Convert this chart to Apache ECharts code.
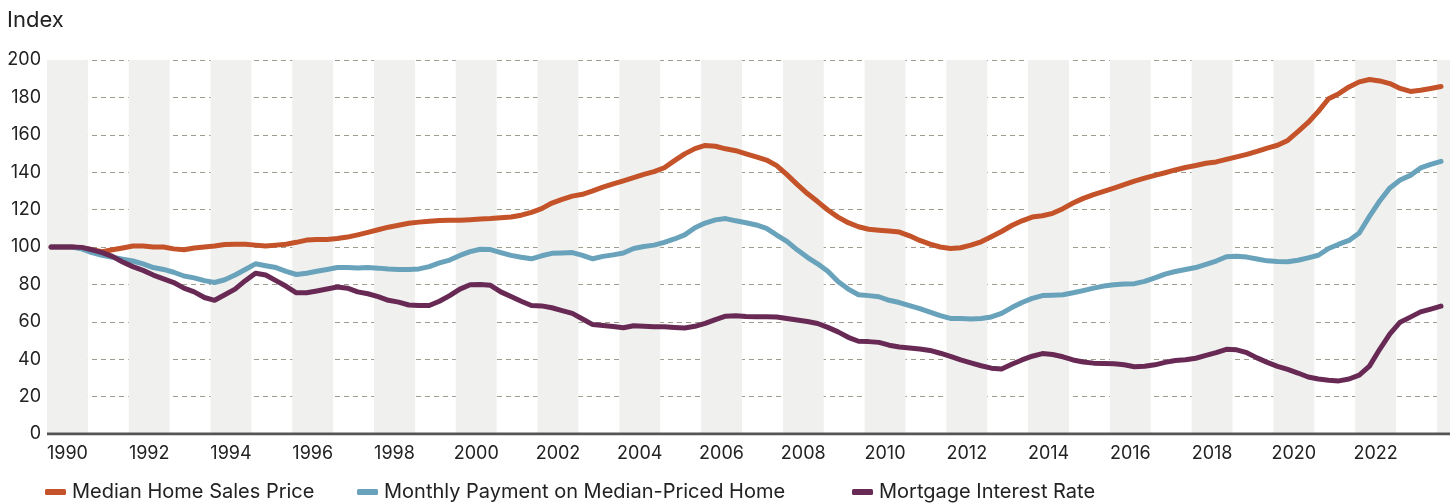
<!DOCTYPE html>
<html><head><meta charset="utf-8">
<script src="https://cdn.jsdelivr.net/npm/echarts@6/dist/echarts.min.js"></script>
<style>html,body{margin:0;padding:0;background:#fff}#c{width:1452px;height:504px}</style>
</head><body><div id="c"></div>
<script>
// Quarterly index values, 1990 Q1 = 100
const startYear = 1990.1;
const step = 0.25;
const seriesNames = ['Median Home Sales Price','Monthly Payment on Median-Priced Home','Mortgage Interest Rate'];
const priceIdx = [
100,100,100,99.5,98.5,97.5,98.5,99.5,100.5,100.5,
100,100,99,98.5,99.5,100,100.5,101.3,101.5,101.5,
101,100.5,101,101.5,102.5,103.7,104,104,104.5,105.3,
106.5,107.8,109.2,110.6,111.6,112.7,113.3,113.8,114.2,114.3,
114.3,114.6,115,115.2,115.6,116,117,118.5,120.5,123.5,
125.5,127.2,128.2,130,132,133.8,135.4,137.1,138.8,140.3,
142.4,146.2,149.8,152.6,154.3,153.9,152.5,151.5,149.8,148.2,
146.5,143.5,138.7,133.5,128.6,124.3,119.8,116,113,110.8,
109.5,109,108.6,108,106,103.5,101.5,100,99.2,99.6,
101,102.8,105.5,108.3,111.5,114,116,116.7,118,120.5,
123.5,126,128,129.7,131.5,133.3,135.2,136.8,138.3,139.7,
141.2,142.5,143.6,144.8,145.5,146.9,148.2,149.5,151.1,152.9,
154.4,157,161.7,166.6,172.5,179.3,182,185.6,188.3,189.6,
188.8,187.4,184.8,183.2,183.8,184.8,185.8];
const paymentIdx = [
100,100,100,99,97,95.5,94.5,93.5,92.5,91,
89,88,86.5,84.5,83.5,82,81,82.5,85,88,
91,90,89,87,85.3,86,87,88,89,89,
88.8,89,88.7,88.2,88,88,88.3,89.5,91.5,93,
95.5,97.5,98.8,98.6,97,95.5,94.5,93.7,95.3,96.6,
96.8,97,95.5,93.7,95,95.8,96.8,99.2,100.3,101,
102.5,104.3,106.5,110.3,112.8,114.5,115.2,114,113,111.8,
110,106.4,103,98.5,94.5,91,87,81.5,77.5,74.5,
74,73.4,71.5,70.3,68.6,67,65.2,63.3,61.8,61.8,
61.5,61.8,62.6,64.5,67.6,70.3,72.5,74,74.2,74.5,
75.5,76.7,78,79.1,79.8,80.2,80.4,81.6,83.5,85.5,
86.9,88,89,90.7,92.5,94.8,95.1,94.6,93.6,92.6,
92.2,92.1,92.9,94.2,95.6,99.2,101.5,103.5,107.5,116.4,
124.6,131.6,135.8,138.3,142.3,144.2,145.8];
const rateIdx = [
100,100,100,99.8,98.5,97,95,92,89.5,87.5,
85,83,81,78,76,73,71.5,74.5,77.5,82,
86,85,82,79,75.5,75.5,76.5,77.5,78.6,78,
76,75,73.5,71.5,70.5,69,68.7,68.7,71,74,
77.5,79.8,80,79.5,76,73.5,71,68.7,68.5,67.5,
66,64.5,61.5,58.5,58,57.5,56.8,57.9,57.6,57.3,
57.4,57,56.7,57.6,59.2,61.2,63,63.2,62.8,62.7,
62.7,62.6,61.8,61,60.2,59.1,57,54.6,51.7,49.6,
49.4,49,47.5,46.5,46,45.5,44.7,43.2,41.5,39.6,
38,36.5,35.2,34.8,37.3,39.6,41.6,43,42.5,41.3,
39.6,38.5,37.9,37.7,37.6,37,36,36.2,37,38.3,
39.3,39.7,40.5,42,43.5,45.3,45,43.5,40.7,38.3,
36.2,34.5,32.6,30.5,29.4,28.8,28.4,29.4,31.5,36.3,
45.3,53.5,59.8,62.5,65.3,66.8,68.4];
const yearLabels = [1990,1992,1994,1996,1998,2000,2002,2004,2006,2008,2010,2012,2014,2016,2018,2020,2022];
const yTicks = [0,20,40,60,80,100,120,140,160,180,200];
const colors = ['#c4532a','#69a2bb','#682a55'];

const font = 'Inter, "Noto Sans", sans-serif';
const toPairs = arr => arr.map((v,i)=>[startYear + i*step, v]);
const chart = echarts.init(document.getElementById('c'), null, {renderer:'canvas'});
const lineSeries = [priceIdx, paymentIdx, rateIdx].map((arr, k) => ({
  name: seriesNames[k], type:'line', data: toPairs(arr), showSymbol:false, symbol:'none',
  lineStyle:{width:5, color:colors[k], cap:'round', join:'round'}, itemStyle:{color:colors[k]},
  z: 2+k, animation:false
}));
const legendLefts = [45, 357, 852];
chart.setOption({
  animation:false,
  title:{text:'Index', left:7, top:9, padding:0, textStyle:{fontFamily:font, fontSize:22, fontWeight:'normal', color:'#222'}},
  grid:{left:47, right:2, top:60, bottom:70},
  legend: seriesNames.map((n,k)=>({
    data:[n], left:legendLefts[k], top:482, padding:0, icon:'roundRect', itemWidth:21, itemHeight:6, itemGap:29,
    textStyle:{fontFamily:font, fontSize:20, color:'#222', padding:[0,0,0,1]}
  })),
  xAxis:{
    type:'value', min:1990, max:2024.32, interval:1,
    axisLine:{show:false}, axisTick:{show:false},
    splitLine:{show:false},
    splitArea:{show:true, areaStyle:{color:['#f0f1ee','rgba(255,255,255,0)']}},
    axisLabel:{customValues: yearLabels.map(y=>y+0.5), formatter: v=>String(Math.floor(v)),
      fontFamily:font, fontSize:18, color:'#222', margin:11}
  },
  yAxis:{
    type:'value', min:yTicks[0], max:yTicks[yTicks.length-1], interval:20,
    axisLine:{show:false}, axisTick:{show:false},
    splitLine:{lineStyle:{color:'#9d9c8f', type:[5,4], width:1.2}},
    axisLabel:{fontFamily:font, fontSize:18, color:'#222', margin:6}
  },
  series:[
    ...lineSeries,
    {type:'line', data:[[1990,0],[2024.32,0]], symbol:'none', silent:true, legendHoverLink:false,
     lineStyle:{color:'#555', width:3}, z:1, tooltip:{show:false}}
  ]
});
</script></body></html>
